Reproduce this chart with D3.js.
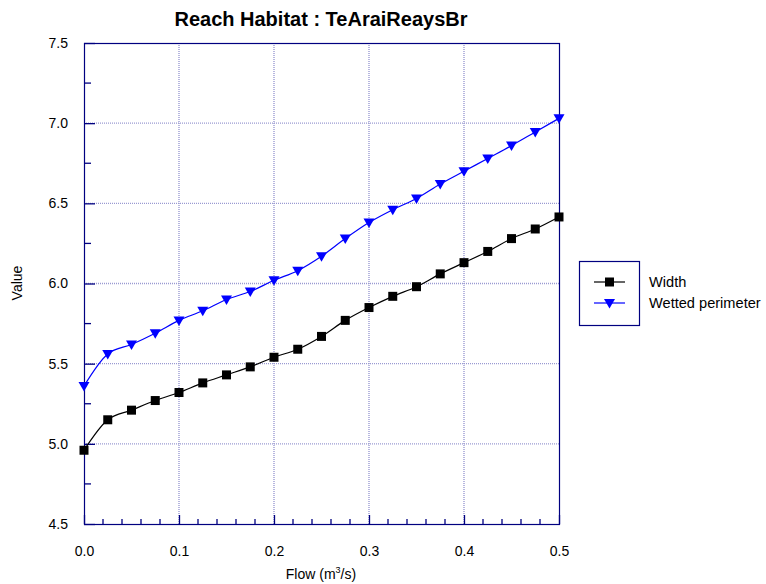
<!DOCTYPE html>
<html>
<head>
<meta charset="utf-8">
<script src="https://cdn.jsdelivr.net/npm/d3@7"></script>
<style>
  body { margin: 0; background: #fff; }
  svg { display: block; font-family: Arial, "Liberation Sans", sans-serif; }
</style>
</head>
<body>
<svg id="chart" width="766" height="584"></svg>
<script>
// Flow (m3/s) at which each habitat metric was evaluated
const flows = [0, 0.025, 0.05, 0.075, 0.1, 0.125, 0.15, 0.175, 0.2, 0.225, 0.25,
               0.275, 0.3, 0.325, 0.35, 0.375, 0.4, 0.425, 0.45, 0.475, 0.5];
const widthValues = [4.96, 5.15, 5.21, 5.27, 5.32, 5.38, 5.43, 5.48, 5.54, 5.59, 5.67,
                     5.77, 5.85, 5.92, 5.98, 6.06, 6.13, 6.20, 6.28, 6.34, 6.415];
const wettedValues = [5.36, 5.56, 5.62, 5.69, 5.77, 5.83, 5.90, 5.95, 6.02, 6.08, 6.17,
                      6.28, 6.38, 6.46, 6.53, 6.62, 6.70, 6.78, 6.86, 6.945, 7.03];
const seriesNames = ["Width", "Wetted perimeter"];
const xTicks = [0, 0.1, 0.2, 0.3, 0.4, 0.5];
const yTicks = [4.5, 5.0, 5.5, 6.0, 6.5, 7.0, 7.5];
const titleText = "Reach Habitat : TeAraiReaysBr";

const svg = d3.select("#chart");
const plot = { left: 84, right: 559, top: 43, bottom: 524 };
const axisColor = "#000080";
const gridColor = "#9a9ad2";
const fontStack = "Arial, 'Liberation Sans', sans-serif";

const x = d3.scaleLinear().domain([0, 0.5]).range([plot.left, plot.right]);
const y = d3.scaleLinear().domain([4.5, 7.5]).range([plot.bottom, plot.top]);

// Dotted grid at the major ticks
const g = svg.append("g");
g.selectAll("line.vg").data(xTicks.slice(1, -1)).join("line")
  .attr("x1", d => x(d)).attr("x2", d => x(d))
  .attr("y1", plot.top).attr("y2", plot.bottom)
  .attr("stroke", gridColor).attr("stroke-width", 1.4).attr("stroke-dasharray", "1,1");
g.selectAll("line.hg").data(yTicks.slice(1, -1)).join("line")
  .attr("y1", d => y(d)).attr("y2", d => y(d))
  .attr("x1", plot.left).attr("x2", plot.right)
  .attr("stroke", gridColor).attr("stroke-width", 1.4).attr("stroke-dasharray", "1,1");

// Frame
svg.append("rect")
  .attr("x", plot.left + 0.5).attr("y", plot.top + 0.5)
  .attr("width", plot.right - plot.left).attr("height", plot.bottom - plot.top)
  .attr("fill", "none").attr("stroke", axisColor).attr("stroke-width", 1.2);

// Inward ticks: x minor every 0.02, y minor every 0.25
const xMinor = d3.range(0, 50, 2).map(i => i / 100).filter(v => Math.round(v * 100) % 10 !== 0);
const xAxis = d3.axisBottom(x).tickValues(xTicks).tickSize(-9).tickPadding(22).tickFormat(d3.format(".1f"));
const xg = svg.append("g").attr("transform", `translate(0,${plot.bottom})`).call(xAxis);
xg.select(".domain").remove();
xg.selectAll(".tick line").attr("stroke", axisColor).attr("stroke-width", 1.3);
xg.selectAll(".tick text").attr("fill", "#000").attr("font-size", 14).attr("font-family", fontStack);
xg.selectAll("line.minor").data(xMinor).join("line")
  .attr("x1", d => x(d)).attr("x2", d => x(d)).attr("y1", 0).attr("y2", -5)
  .attr("stroke", axisColor).attr("stroke-width", 1.3);

const yMinor = [4.75, 5.25, 5.75, 6.25, 6.75, 7.25];
const yAxis = d3.axisLeft(y).tickValues(yTicks).tickSize(-11).tickPadding(16).tickFormat(d3.format(".1f"));
const yg = svg.append("g").attr("transform", `translate(${plot.left},0)`).call(yAxis);
yg.select(".domain").remove();
yg.selectAll(".tick line").attr("stroke", axisColor).attr("stroke-width", 1.3);
yg.selectAll(".tick text").attr("fill", "#000").attr("font-size", 14).attr("font-family", fontStack);
yg.selectAll("line.minor").data(yMinor).join("line")
  .attr("y1", d => y(d)).attr("y2", d => y(d)).attr("x1", 0).attr("x2", 7)
  .attr("stroke", axisColor).attr("stroke-width", 1.3);

// Series
const line = d3.line().x(d => x(d[0])).y(d => y(d[1])).curve(d3.curveMonotoneX);
const widthPts = flows.map((f, i) => [f, widthValues[i]]);
const wettedPts = flows.map((f, i) => [f, wettedValues[i]]);

const square = "M-4.5,-4.5H4.5V4.5H-4.5Z";
const triangle = "M-5.5,-4 L5.5,-4 L0,5.5 Z";

function drawSeries(pts, color, marker) {
  svg.append("path").datum(pts).attr("d", line)
    .attr("fill", "none").attr("stroke", color).attr("stroke-width", 1.2);
  svg.append("g").selectAll("path").data(pts).join("path")
    .attr("transform", d => `translate(${x(d[0])},${y(d[1])})`)
    .attr("fill", color)
    .attr("d", marker === "square" ? square : triangle);
}
drawSeries(widthPts, "#000000", "square");
drawSeries(wettedPts, "#0000ff", "triangle");

// Title and axis labels
svg.append("text").attr("x", 321).attr("y", 26).attr("text-anchor", "middle")
  .attr("font-size", 20).attr("font-weight", "bold").text(titleText);
svg.append("text").attr("transform", "translate(22,283) rotate(-90)")
  .attr("text-anchor", "middle").attr("font-size", 14).text("Value");
const xl = svg.append("text").attr("x", 321).attr("y", 579).attr("text-anchor", "middle").attr("font-size", 14);
xl.append("tspan").text("Flow (m");
xl.append("tspan").attr("font-size", 9).attr("dy", -6).text("3");
xl.append("tspan").attr("dy", 6).text("/s)");

// Legend
const lg = svg.append("g");
lg.append("rect").attr("x", 579.5).attr("y", 261.5).attr("width", 60).attr("height", 64)
  .attr("fill", "#fff").attr("stroke", axisColor).attr("stroke-width", 1.2);
const legendRows = [
  { name: seriesNames[0], color: "#000000", marker: "square", y: 282 },
  { name: seriesNames[1], color: "#0000ff", marker: "triangle", y: 303 }
];
legendRows.forEach(r => {
  lg.append("line").attr("x1", 594).attr("x2", 625).attr("y1", r.y).attr("y2", r.y)
    .attr("stroke", r.color).attr("stroke-width", 1.2);
  lg.append("path").attr("transform", `translate(609.5,${r.y})`)
    .attr("d", r.marker === "square" ? square : triangle).attr("fill", r.color);
  lg.append("text").attr("x", 649).attr("y", r.y + 5).attr("font-size", 14.6).text(r.name);
});
</script>
</body>
</html>
